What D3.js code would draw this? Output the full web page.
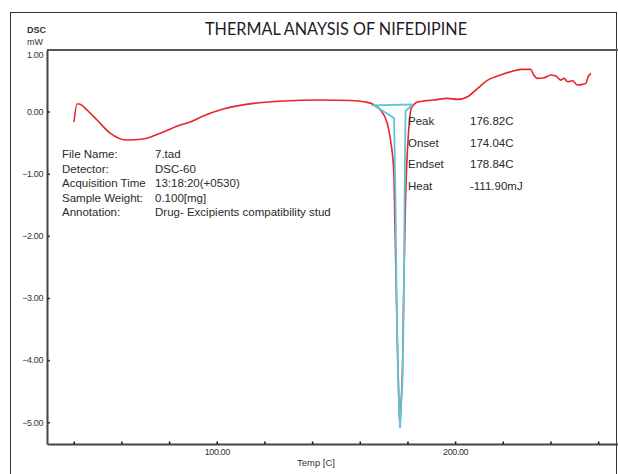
<!DOCTYPE html>
<html>
<head>
<meta charset="utf-8">
<script src="https://cdn.jsdelivr.net/npm/d3@7"></script>
<style>
  html, body { margin: 0; padding: 0; background: #fff; }
  svg { display: block; }
  text { font-family: "Liberation Sans", Arial, sans-serif; fill: #2a2a2a; }
</style>
</head>
<body>
<svg id="chart" width="618" height="474"></svg>
<script>
// DSC trace of nifedipine: temperature [C] vs heat flow [mW]
const tempC = [40.13, 41.39, 42.23, 45.59, 49.79, 55.25, 62.39, 69.12, 77.52, 84.66, 88.87, 94.33,
  102.73, 117.02, 127.94, 143.49, 156.09, 162.39, 165.76, 168.70, 171.51, 172.90, 174.29, 174.79,
  175.42, 175.84, 176.39, 176.81, 177.31, 178.07, 178.36, 178.78, 179.20, 179.62, 180.25, 180.88,
  181.51, 182.56, 184.24, 190.97, 196.85, 201.05, 205.25, 209.45, 213.66, 219.12, 223.32, 227.52,
  231.72, 232.98, 234.54, 237.31, 240.13, 242.23, 244.33, 245.71, 247.14, 249.24, 251.34, 253.45,
  254.83, 255.80, 256.93];
const heatFlow = [-0.169, 0.121, 0.121, 0.024, -0.137, -0.346, -0.458, -0.442, -0.330, -0.217, -0.169, -0.072,
  0.040, 0.137, 0.169, 0.185, 0.177, 0.153, 0.113, 0.024, -0.185, -0.458, -0.989, -1.905,
  -3.031, -3.834, -4.638, -5.040, -4.719, -3.834, -3.031, -2.227, -1.423, -0.941, -0.458, -0.137,
  0.040, 0.105, 0.153, 0.185, 0.212, 0.196, 0.238, 0.373, 0.506, 0.587, 0.640, 0.678,
  0.678, 0.587, 0.534, 0.543, 0.587, 0.571, 0.506, 0.534, 0.479, 0.495, 0.426, 0.437,
  0.453, 0.559, 0.614];

// Peak analysis construction lines (baseline + flank tangents)
const baselineT = [164.92, 182.14];
const baselineV = [0.100, 0.113];
const leftTanT = [165.76, 174.37, 175.00, 175.42, 176.05, 176.89];
const leftTanV = [0.105, -0.105, -1.423, -3.031, -4.317, -5.088];
const rightTanT = [182.14, 179.20, 178.78, 178.49, 177.94, 176.89];
const rightTanV = [0.113, 0.008, -1.423, -3.031, -4.317, -5.088];

// Axis ticks
const yTicks = [1, 0, -1, -2, -3, -4, -5];
const xTicks = [40, 60, 80, 100, 120, 140, 160, 180, 200, 220, 240, 260];
const xLabelled = [100, 200];

// Text blocks
const infoLabels = ["File Name:", "Detector:", "Acquisition Time", "Sample Weight:", "Annotation:"];
const infoValues = ["7.tad", "DSC-60", "13:18:20(+0530)", "0.100[mg]", "Drug- Excipients compatibility stud"];
const peakLabels = ["Peak", "Onset", "Endset", "Heat"];
const peakValues = ["176.82C", "174.04C", "178.84C", "-111.90mJ"];

const svg = d3.select("#chart");

// outer frame
svg.append("rect").attr("x", 10.5).attr("y", 12.5).attr("width", 606).attr("height", 480)
  .attr("fill", "none").attr("stroke", "#333").attr("stroke-width", 1);

const x = d3.scaleLinear().domain([28.8, 270]).range([47, 622]);
const y = d3.scaleLinear().domain([-5.35, 0.99]).range([444, 50]);

// title and unit label
svg.append("text").attr("x", 336).attr("y", 35).attr("text-anchor", "middle")
  .attr("textLength", 262).attr("lengthAdjust", "spacingAndGlyphs")
  .style("font-family", "Lato, 'Open Sans', sans-serif").style("font-size", "17px")
  .style("fill", "#1c1c28")
  .text("THERMAL ANAYSIS OF NIFEDIPINE");
svg.append("text").attr("x", 27).attr("y", 33).style("font-size", "9px").style("font-weight", "bold")
  .style("fill", "#333").text("DSC");
svg.append("text").attr("x", 27).attr("y", 45).style("font-size", "9px").style("fill", "#333").text("mW");

// top border of plot area
svg.append("line").attr("x1", 47).attr("x2", 618).attr("y1", 50).attr("y2", 50)
  .attr("stroke", "#555").attr("stroke-width", 2);

// y axis
const yAxis = svg.append("g").attr("transform", "translate(47,0)")
  .call(d3.axisLeft(y).tickValues(yTicks).tickSizeInner(-3).tickSizeOuter(0).tickPadding(4)
    .tickFormat(d3.format(".2f")));
yAxis.select(".domain").attr("stroke", "#444").attr("stroke-width", 2);
yAxis.selectAll(".tick line").attr("stroke", "#333").attr("stroke-width", 1.5);
yAxis.selectAll(".tick text").style("font-size", "9px").style("fill", "#333")
  .style("letter-spacing", "-0.4px").attr("font-family", null);
// the top label sits just inside the frame, without a tick
yAxis.selectAll(".tick").filter(d => d === 1)
  .attr("transform", `translate(0,${y(1) + 6})`)
  .select("line").remove();

// x axis
const xAxis = svg.append("g").attr("transform", "translate(0,444)")
  .call(d3.axisBottom(x).tickValues(xTicks).tickSizeInner(-2).tickSizeOuter(0).tickPadding(5)
    .tickFormat(d => xLabelled.includes(d) ? d3.format(".2f")(d) : ""));
xAxis.select(".domain").attr("stroke", "#444").attr("stroke-width", 2);
xAxis.selectAll(".tick line").attr("y1", -2.5).attr("y2", 0)
  .attr("stroke", "#111").attr("stroke-width", 1.5);
xAxis.selectAll(".tick text").style("font-size", "9px").style("fill", "#333")
  .style("letter-spacing", "-0.4px").attr("font-family", null);

svg.append("text").attr("x", 316).attr("y", 466).attr("text-anchor", "middle")
  .style("font-size", "9.5px").style("fill", "#333").text("Temp  [C]");

// DSC curve
const trace = tempC.map((t, i) => [t, heatFlow[i]]);
const line = d3.line().x(d => x(d[0])).y(d => y(d[1])).curve(d3.curveMonotoneX);
svg.append("path").datum(trace).attr("d", line)
  .attr("fill", "none").attr("stroke", "#e8242b").attr("stroke-width", 1.6);

// peak analysis lines
const lin = d3.line().x(d => x(d[0])).y(d => y(d[1]));
const zip = (a, b) => a.map((t, i) => [t, b[i]]);
[zip(baselineT, baselineV), zip(leftTanT, leftTanV), zip(rightTanT, rightTanV)].forEach(pts => {
  svg.append("path").datum(pts).attr("d", lin)
    .attr("fill", "none").attr("stroke", "#5cc6dc").attr("stroke-width", 1.8);
});

// acquisition information
const info = svg.append("g").style("font-size", "11.5px");
infoLabels.forEach((s, i) => {
  info.append("text").attr("x", 62).attr("y", 158 + i * 14.6).text(s);
  info.append("text").attr("x", 155).attr("y", 158 + i * 14.6).text(infoValues[i]);
});

// peak results
const peak = svg.append("g").style("font-size", "11.5px");
peakLabels.forEach((s, i) => {
  peak.append("text").attr("x", 408).attr("y", 125 + i * 21.7).text(s);
  peak.append("text").attr("x", 470).attr("y", 125 + i * 21.7).text(peakValues[i]);
});
</script>
</body>
</html>
